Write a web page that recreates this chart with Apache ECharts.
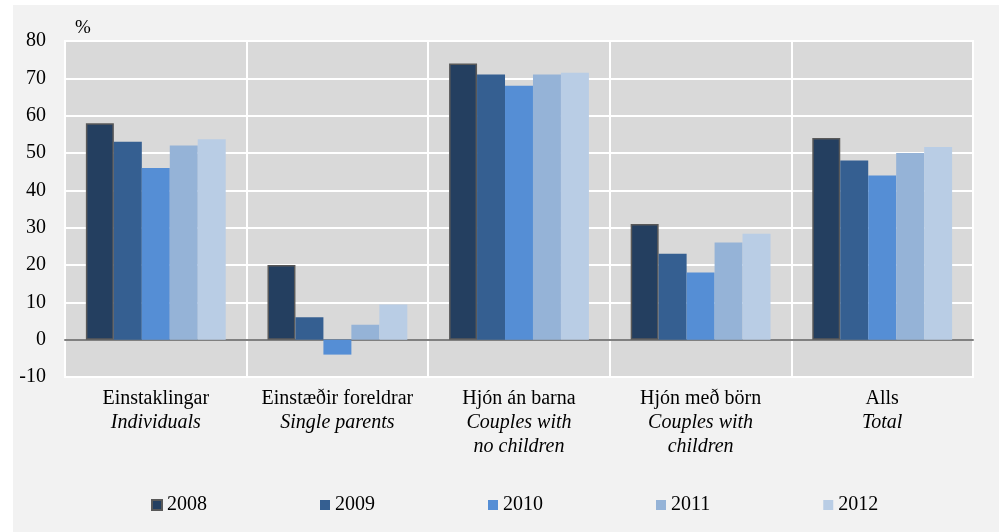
<!DOCTYPE html>
<html>
<head>
<meta charset="utf-8">
<script src="https://cdn.jsdelivr.net/npm/echarts@6/dist/echarts.min.js"></script>
<style>
  html, body { margin: 0; padding: 0; background: #fff; }
  #chart { width: 999px; height: 532px; }
</style>
</head>
<body>
<div id="chart"></div>
<script>
const categoriesIs = ["Einstaklingar", "Einstæðir foreldrar", "Hjón án barna", "Hjón með börn", "Alls"]
const categoriesEn = ["Individuals", "Single parents", "Couples with\nno children", "Couples with\nchildren", "Total"]
const years = ["2008", "2009", "2010", "2011", "2012"]
const values2008 = [58, 20, 74, 31, 54]
const values2009 = [53, 6, 71, 23, 48]
const values2010 = [46, -4, 68, 18, 44]
const values2011 = [52, 4, 71, 26, 50]
const values2012 = [53.7, 9.4, 71.5, 28.4, 51.6]
const colors = ["#243f60", "#355f91", "#558ed5", "#95b3d7", "#b9cde5"]

const allValues = [values2008, values2009, values2010, values2011, values2012]
const font = "Liberation Serif"

const chart = echarts.init(document.getElementById("chart"))

const series = years.map((y, i) => ({
    name: y,
    type: "bar",
    data: allValues[i],
    barGap: "0%",
    barCategoryGap: "23%",
    itemStyle: {
        color: colors[i],
        borderColor: i === 0 ? "#595959" : colors[i],
        borderWidth: i === 0 ? 1.5 : 0
    }
}))

chart.setOption({
    backgroundColor: "#ffffff",
    animation: false,
    graphic: [{
        type: "rect",
        z: -10,
        silent: true,
        shape: { x: 13, y: 5, width: 999, height: 540 },
        style: { fill: "#f2f2f2" }
    }],
    grid: {
        left: 65, right: 26, top: 41, bottom: 155,
        show: true,
        backgroundColor: "#d9d9d9",
        borderColor: "#ffffff",
        borderWidth: 2
    },
    legend: {
        top: 490,
        left: 146,
        itemWidth: 10,
        itemHeight: 10,
        itemGap: 113,
        icon: "rect",
        textStyle: { fontFamily: font, fontSize: 20, color: "#000" },
        data: years
    },
    xAxis: {
        type: "category",
        data: categoriesIs.map((c, i) => c + "\n" + categoriesEn[i]),
        axisLine: { onZero: true, lineStyle: { color: "#808080", width: 2 } },
        axisTick: { show: false },
        splitLine: { show: true, lineStyle: { color: "#ffffff", width: 2 } },
        axisLabel: {
            interval: 0,
            margin: 10,
            formatter: (v, i) => "{a|" + categoriesIs[i] + "}\n" + categoriesEn[i].split("\n").map(s => "{b|" + s + "}").join("\n"),
            rich: {
                a: { fontFamily: font, fontSize: 20, color: "#000", lineHeight: 24 },
                b: { fontFamily: font, fontSize: 20, fontStyle: "italic", color: "#000", lineHeight: 24 }
            }
        }
    },
    yAxis: {
        type: "value",
        min: -10,
        max: 80,
        interval: 10,
        name: "%",
        nameLocation: "end",
        nameGap: 3,
        nameTextStyle: { fontFamily: font, fontSize: 19, color: "#000", align: "left", padding: [0, 0, 0, 10] },
        axisLine: { show: false },
        axisTick: { show: false },
        splitLine: { lineStyle: { color: "#ffffff", width: 2 } },
        axisLabel: { fontFamily: font, fontSize: 20, color: "#000", margin: 19 }
    },
    series: series
})
</script>
</body>
</html>
